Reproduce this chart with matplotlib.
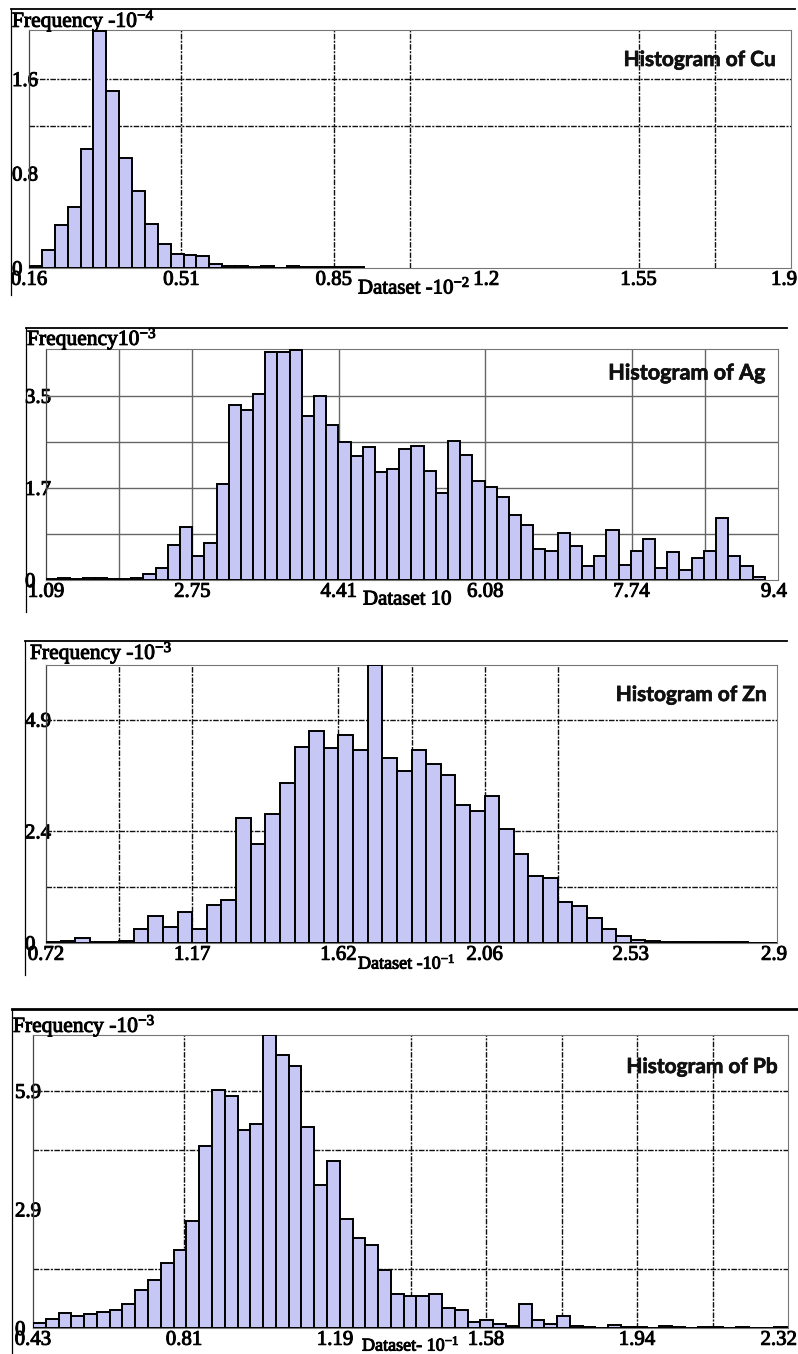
import numpy as np
import matplotlib
matplotlib.use("Agg")
import matplotlib.pyplot as plt
from matplotlib.lines import Line2D
from matplotlib.transforms import ScaledTranslation
import matplotlib.patheffects as pe

plt.rcParams['mathtext.fontset'] = 'custom'
plt.rcParams['mathtext.rm'] = 'Liberation Serif'
plt.rcParams['mathtext.it'] = 'Liberation Serif:italic'
plt.rcParams['mathtext.bf'] = 'Liberation Serif:bold'
plt.rcParams['mathtext.default'] = 'regular'

# ---------------- data ----------------
cu_range = (0.16, 1.9)
cu_bin = 0.0294
cu_counts = [0.014, 0.15, 0.36, 0.52, 1.01, 2.01, 1.50, 0.93, 0.65, 0.37, 0.20, 0.12, 0.11,
             0.10, 0.034, 0.014, 0.014, 0.01, 0.014, 0.004, 0.014, 0.005, 0.005, 0.005, 0.005, 0.005]
cu_xlabels = ["0.16", "0.51", "0.85", "1.2", "1.55", "1.9"]
cu_yticks = [0, 0.8, 1.6]
cu_ylabels = ["0", "0.8", "1.6"]

ag_range = (1.09, 9.4)
ag_bin = 0.1383
ag_counts = [0.02, 0.03, 0.01, 0.03, 0.03, 0.01, 0.01, 0.03,
             0.11, 0.22, 0.67, 1.00, 0.46, 0.70, 1.83, 3.33, 3.23, 3.53, 4.33, 4.33, 4.38,
             3.11, 3.49, 2.95, 2.63, 2.36, 2.52, 2.06, 2.11,
             2.49, 2.54, 2.08, 1.65, 2.65, 2.38, 1.88, 1.76, 1.57, 1.24, 1.05, 0.58, 0.55,
             0.89, 0.65, 0.27, 0.46, 0.95, 0.29, 0.55, 0.78, 0.22, 0.54, 0.19, 0.41, 0.55,
             1.17, 0.46, 0.27, 0.05]
ag_xlabels = ["1.09", "2.75", "4.41", "6.08", "7.74", "9.4"]
ag_yticks = [0, 1.75, 3.5]
ag_ylabels = ["0", "1.7", "3.5"]

zn_range = (0.72, 2.9)
zn_bin = 0.0436
zn_counts = [0.03, 0.05, 0.10, 0.03, 0.03, 0.05, 0.30,
             0.59, 0.35, 0.67, 0.30, 0.84, 0.95, 2.74, 2.17, 2.82, 3.51, 4.30, 4.66, 4.28,
             4.57, 4.24, 6.11, 4.06, 3.77, 4.24, 3.93, 3.69, 3.02, 2.89, 3.23, 2.51, 1.96,
             1.46, 1.43, 0.91, 0.82, 0.55, 0.30, 0.15, 0.07, 0.04, 0.03, 0.03, 0.02, 0.02,
             0.02, 0.02, 0.01, 0.01]
zn_xlabels = ["0.72", "1.17", "1.62", "2.06", "2.53", "2.9"]
zn_yticks = [0, 2.45, 4.9]
zn_ylabels = ["0", "2.4", "4.9"]

pb_range = (0.43, 2.32)
pb_bin = 0.032
pb_counts = [0.12, 0.22, 0.38, 0.30, 0.35, 0.40, 0.45, 0.60, 0.95, 1.20,
             1.62, 1.95, 2.67, 4.52, 5.92, 5.78, 4.93, 5.08, 7.29, 6.79, 6.53, 5.01, 3.55,
             4.16, 2.71, 2.24, 2.07,
             1.45, 0.85, 0.80, 0.80, 0.85, 0.50, 0.45, 0.15, 0.20, 0.10, 0.05, 0.60, 0.20,
             0.10, 0.30, 0.05, 0.02, 0.0, 0.08, 0.02, 0.02, 0.0, 0.05, 0.02, 0.0, 0.02,
             0.03, 0.0, 0.02, 0.01, 0.0, 0.02]
pb_xlabels = ["0.43", "0.81", "1.19", "1.58", "1.94", "2.32"]
pb_yticks = [0, 2.95, 5.9]
pb_ylabels = ["0", "2.9", "5.9"]

# ---------------- layout (pixels) ----------------
W, H, DPI = 798, 1354, 100
fig = plt.figure(figsize=(W / DPI, H / DPI), dpi=DPI)
fig.patch.set_facecolor('white')

SERIF = 'Liberation Serif'
SANS = 'Lato'
BAR_FACE = '#c6c7f5'
THICK = [pe.withStroke(linewidth=0.7, foreground='black')]
THICK_SANS = [pe.withStroke(linewidth=0.5, foreground='#111111')]

panels = [
    dict(name='Cu', rng=cu_range, bw=cu_bin, counts=cu_counts, xl=cu_xlabels,
         yt=cu_yticks, yl=cu_ylabels, ytop=2.015, hgrid=[1.2, 1.6],
         vgrid=[1, 2, 2.5, 4, 4.5], box=(29, 30, 791, 268), gridsolid=False,
         frame=(11, 9, 795, 295, 1.3), ylab_left=12,
         freq=(12, 27, r"Frequency -10$^{-4}$"),
         hist=(776, 60, 15), dset=(358, r"Dataset -10$^{-2}$", 20, 15), last_dx=6),
    dict(name='Ag', rng=ag_range, bw=ag_bin, counts=ag_counts, xl=ag_xlabels,
         yt=ag_yticks, yl=ag_ylabels, ytop=4.39, hgrid=[0.875, 1.75, 2.625, 3.5],
         vgrid=[0.5, 1, 2, 3, 4, 4.5], box=(46, 349, 778, 580), gridsolid=True,
         frame=(26, 328, 787, 612, 1.3), ylab_left=25,
         freq=(27, 345, r"Frequency10$^{-3}$"),
         hist=(765, 373, 15.5), dset=(363, r"Dataset 10", 20, 15), last_dx=9),
    dict(name='Zn', rng=zn_range, bw=zn_bin, counts=zn_counts, xl=zn_xlabels,
         yt=zn_yticks, yl=zn_ylabels, ytop=6.1, hgrid=[1.225, 2.45, 4.9],
         vgrid=[0.5, 1, 2, 2.5, 3, 3.5], box=(46, 665, 777, 943), gridsolid=False,
         frame=(25, 641, 787, 975, 1.3), ylab_left=25,
         freq=(30, 659, r"Frequency -10$^{-3}$"),
         hist=(767, 695, 15), dset=(358, r"Dataset -10$^{-1}$", 20, 13), last_dx=10),
    dict(name='Pb', rng=pb_range, bw=pb_bin, counts=pb_counts, xl=pb_xlabels,
         yt=pb_yticks, yl=pb_ylabels, ytop=7.29, hgrid=[1.475, 4.425, 5.9],
         vgrid=[1, 2.5, 3, 3.5, 4, 4.5], box=(33, 1035, 788, 1328), gridsolid=False,
         frame=(12, 1009, 797, 1354, 2.0), ylab_left=15,
         freq=(13, 1032, r"Frequency -10$^{-3}$"),
         hist=(778, 1067, 15), dset=(362, r"Dataset- 10$^{-1}$", 17, 13), last_dx=9),
]


def fx(px):
    return px / W


def fy(py):
    return 1 - py / H


for p in panels:
    L, T, R, B = p['box']
    ax = fig.add_axes([fx(L), fy(B), (R - L) / W, (B - T) / H])
    ax.xaxis.remove_overlapping_locs = False
    ax.yaxis.remove_overlapping_locs = False
    lo, hi = p['rng']
    n = len(p['counts'])
    edges = lo + np.arange(n) * p['bw']
    ax.bar(edges, p['counts'], width=p['bw'], align='edge', color=BAR_FACE,
           edgecolor='black', linewidth=1.4, zorder=3)
    ax.set_xlim(lo, hi)
    ax.set_ylim(0, p['ytop'])

    step = (hi - lo) / 5
    ax.set_xticks(np.linspace(lo, hi, 6))
    ax.set_xticklabels(p['xl'], fontfamily=SERIF, fontsize=15)
    ax.set_yticks(p['yt'])
    ax.set_yticklabels(p['yl'], fontfamily=SERIF, fontsize=15)
    ax.set_xticks([lo + k * step for k in p['vgrid']], minor=True)
    ax.set_yticks(p['hgrid'], minor=True)
    ax.set_xticklabels([], minor=True)
    ax.set_yticklabels([], minor=True)
    ax.tick_params(which='both', length=0)
    ax.tick_params(axis='x', pad=2)
    ax.tick_params(axis='y', pad=(L - p['ylab_left']) * 72 / DPI)
    for lab in ax.get_yticklabels():
        lab.set_horizontalalignment('left')
        lab.set_path_effects(THICK)
    for lab in ax.get_xticklabels():
        lab.set_path_effects(THICK)
    last = ax.get_xticklabels()[-1]
    last.set_horizontalalignment('right')
    last.set_transform(last.get_transform() +
                       ScaledTranslation(p['last_dx'] / DPI, 0, fig.dpi_scale_trans))

    if p['gridsolid']:
        ax.grid(True, which='minor', color='#666666', linewidth=1.0, linestyle='-')
    else:
        ax.grid(True, which='minor', color='#111111', linewidth=1.0,
                linestyle=(0, (4, 1, 1.5, 1)))
    ax.grid(False, which='major')
    ax.set_axisbelow(True)
    for s in ['top', 'right', 'bottom']:
        ax.spines[s].set_color('#777777')
        ax.spines[s].set_linewidth(0.8)
    ax.spines['left'].set_color('#444444')
    ax.spines['left'].set_linewidth(0.9)

    # outer frame: top rule and left rule
    x0, y0, x1, y1, lw = p['frame']
    fig.add_artist(Line2D([fx(x0), fx(x1)], [fy(y0), fy(y0)], transform=fig.transFigure,
                          color='black', linewidth=lw))
    fig.add_artist(Line2D([fx(x0), fx(x0)], [fy(y0), fy(y1)], transform=fig.transFigure,
                          color='black', linewidth=0.9))

    # titles / labels
    tx, ty, ttxt = p['freq']
    fig.text(fx(tx), fy(ty), ttxt, fontfamily=SERIF, fontsize=15.5, ha='left',
             va='baseline', path_effects=THICK)
    hx, hy, hs = p['hist']
    fig.text(fx(hx), fy(hy), f"Histogram of {p['name']}", fontfamily=SANS,
             fontweight='bold', fontsize=hs, ha='right', va='center',
             color='#111111', path_effects=THICK_SANS)
    dx, dtxt, doff, dfs = p['dset']
    fig.text(fx(dx), fy(B + doff), dtxt, fontfamily=SERIF, fontsize=dfs, ha='left',
             va='center', path_effects=THICK)

fig.savefig('out.png', dpi=DPI, facecolor='white')
